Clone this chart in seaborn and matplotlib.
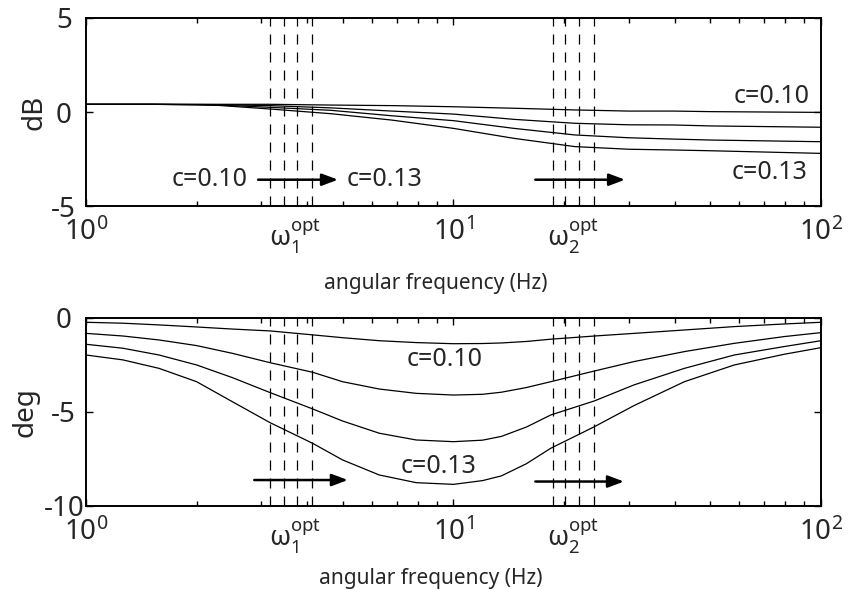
import numpy as np
import pandas as pd
import matplotlib
matplotlib.use("Agg")
import matplotlib.pyplot as plt
import seaborn as sns
from matplotlib.ticker import FixedLocator, LogLocator, NullFormatter
from matplotlib.transforms import blended_transform_factory

# ---------------- data ----------------
c_names = ["c=0.10", "c=0.11", "c=0.12", "c=0.13"]

freq_mag = [1, 1.5, 2, 2.3, 3.17, 4.64, 6.8, 10, 14.6, 21.4, 30, 39.7, 50, 100]
mag_c010 = [0.41, 0.41, 0.41, 0.41, 0.41, 0.37, 0.34, 0.28, 0.20, 0.11, 0.05, 0.05, 0.02, -0.02]
mag_c011 = [0.41, 0.41, 0.40, 0.39, 0.34, 0.22, 0.05, -0.11, -0.39, -0.60, -0.68, -0.69, -0.74, -0.81]
mag_c012 = [0.41, 0.41, 0.39, 0.37, 0.25, 0.09, -0.20, -0.46, -0.87, -1.22, -1.37, -1.44, -1.49, -1.58]
mag_c013 = [0.41, 0.41, 0.38, 0.35, 0.16, -0.09, -0.43, -0.87, -1.40, -1.84, -1.98, -2.02, -2.06, -2.20]

freq_phase = [1, 1.26, 1.58, 2, 2.5, 3.17, 4.14, 4.99, 6.28, 7.92, 10, 12,
              13.5, 15.8, 18.4, 24.2, 31.0, 42.5, 58.1, 79.5, 100]
phase_c010 = [-0.23, -0.28, -0.37, -0.48, -0.59, -0.69, -0.90, -1.05, -1.21, -1.31, -1.37, -1.36,
              -1.33, -1.25, -1.13, -0.96, -0.82, -0.64, -0.46, -0.32, -0.23]
phase_c011 = [-0.82, -0.96, -1.17, -1.47, -1.88, -2.38, -2.89, -3.39, -3.78, -4.01, -4.10, -4.06,
              -3.95, -3.70, -3.39, -2.82, -2.32, -1.79, -1.35, -0.99, -0.78]
phase_c012 = [-1.40, -1.61, -1.97, -2.50, -3.17, -3.97, -4.84, -5.48, -6.13, -6.49, -6.58, -6.50,
              -6.30, -5.80, -5.16, -4.41, -3.56, -2.68, -1.97, -1.52, -1.21]
phase_c013 = [-1.97, -2.23, -2.68, -3.39, -4.45, -5.57, -6.67, -7.55, -8.35, -8.76, -8.85, -8.65,
              -8.40, -7.75, -6.93, -5.78, -4.66, -3.39, -2.50, -1.93, -1.58]

omega1_opt = [3.17, 3.46, 3.75, 4.12]
omega2_opt = [18.6, 20.1, 21.9, 24.1]

x_ticks = [1, 10, 100]
x_ticklabels = [r"$10^{0}$", r"$10^{1}$", r"$10^{2}$"]
mag_yticks = [-5, 0, 5]
mag_yticklabels = ["-5", "0", "5"]
phase_yticks = [-10, -5, 0]
phase_yticklabels = ["-10", "-5", "0"]

# ---------------- tables ----------------
def long_table(freq, series):
    rows = []
    for name, vals in zip(c_names, series):
        for f, v in zip(freq, vals):
            rows.append({"freq": f, "value": v, "c": name})
    return pd.DataFrame(rows)

df_mag = long_table(freq_mag, [mag_c010, mag_c011, mag_c012, mag_c013])
df_phase = long_table(freq_phase, [phase_c010, phase_c011, phase_c012, phase_c013])

# ---------------- style ----------------
sns.set_theme(style="ticks")
plt.rcParams["font.family"] = ["Noto Sans", "DejaVu Sans"]
plt.rcParams["mathtext.fontset"] = "custom"
plt.rcParams["mathtext.rm"] = "Noto Sans"
plt.rcParams["mathtext.it"] = "Noto Sans"
plt.rcParams["mathtext.bf"] = "Noto Sans:bold"
plt.rcParams["axes.linewidth"] = 1.4

fig = plt.figure(figsize=(8.48, 5.9), dpi=100)
ax1 = fig.add_axes([0.1014, 0.6508, 0.8667, 0.3187])
ax2 = fig.add_axes([0.1014, 0.1424, 0.8667, 0.3187])

pal = ["black"] * 4
sns.lineplot(data=df_mag, x="freq", y="value", hue="c", palette=pal,
             legend=False, ax=ax1, linewidth=0.9)
sns.lineplot(data=df_phase, x="freq", y="value", hue="c", palette=pal,
             legend=False, ax=ax2, linewidth=0.9)

for ax, yt, ytl, ylim, ylab, xlab_pos in [
        (ax1, mag_yticks, mag_yticklabels, (-5, 5), "dB", (0.4755, -0.355)),
        (ax2, phase_yticks, phase_yticklabels, (-10, 0), "deg", (0.469, -0.33))]:
    ax.set_xscale("log")
    ax.set_xlim(1, 100)
    ax.set_ylim(*ylim)
    for f in omega1_opt + omega2_opt:
        ax.axvline(f, color="black", lw=0.9, ls=(0, (8, 6.4)))
    ax.xaxis.set_major_locator(FixedLocator(x_ticks))
    ax.set_xticklabels(x_ticklabels, fontsize=20)
    ax.xaxis.set_minor_locator(LogLocator(base=10, subs=np.arange(2, 10)))
    ax.xaxis.set_minor_formatter(NullFormatter())
    ax.set_yticks(yt)
    ax.set_yticklabels(ytl, fontsize=20, ha="center")
    ax.tick_params(which="both", direction="in", top=True, right=True,
                   color="black", width=1.0)
    ax.tick_params(which="major", length=5)
    ax.tick_params(which="minor", length=3.3)
    ax.tick_params(axis="y", pad=16)
    ax.tick_params(axis="x", pad=9)
    ax.set_ylabel(ylab, fontsize=20)
    ax.set_xlabel("angular frequency (Hz)", fontsize=15)
    ax.xaxis.set_label_coords(*xlab_pos)
    for s in ax.spines.values():
        s.set_color("black")
        s.set_linewidth(1.4)
    trans = blended_transform_factory(ax.transData, ax.transAxes)
    ax.text(3.7, -0.058, r"$\mathrm{\omega}_{1}^{\mathrm{opt}}$", transform=trans,
            ha="center", va="top", fontsize=19)
    ax.text(21.1, -0.058, r"$\mathrm{\omega}_{2}^{\mathrm{opt}}$", transform=trans,
            ha="center", va="top", fontsize=19)

ax1.yaxis.set_label_coords(-0.051, 0.5)
ax2.yaxis.set_label_coords(-0.063, 0.5)

arrow = dict(arrowstyle="-|>,head_length=0.4,head_width=0.15", color="black",
             lw=1.8, mutation_scale=24, shrinkA=0, shrinkB=0)
# top panel arrows & labels
ax1.annotate("", xy=(4.85, -3.6), xytext=(2.94, -3.6), arrowprops=arrow)
ax1.annotate("", xy=(29.3, -3.6), xytext=(16.7, -3.6), arrowprops=arrow)
ax1.text(2.76, -3.6, "c=0.10", ha="right", va="center", fontsize=18)
ax1.text(5.13, -3.6, "c=0.13", ha="left", va="center", fontsize=18)
ax1.text(93, 0.8, "c=0.10", ha="right", va="center", fontsize=18)
ax1.text(92, -3.24, "c=0.13", ha="right", va="center", fontsize=18)
# bottom panel arrows & labels
ax2.annotate("", xy=(5.16, -8.62), xytext=(2.87, -8.62), arrowprops=arrow)
ax2.annotate("", xy=(29.1, -8.7), xytext=(16.7, -8.7), arrowprops=arrow)
ax2.text(9.48, -2.23, "c=0.10", ha="center", va="center", fontsize=18)
ax2.text(9.1, -7.9, "c=0.13", ha="center", va="center", fontsize=18)

fig.savefig("out.png", dpi=100)
